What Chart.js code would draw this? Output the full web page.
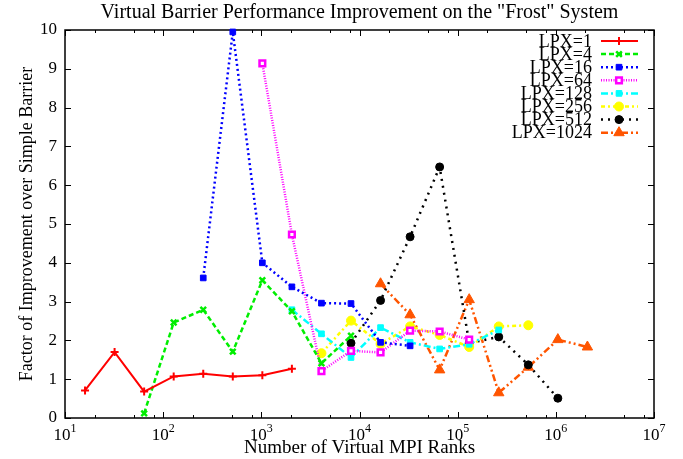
<!DOCTYPE html>
<html>
<head>
<meta charset="utf-8">
<script src="https://cdn.jsdelivr.net/npm/chart.js@4"></script>
<style>
html, body { margin: 0; padding: 0; background: #fff; }
</style>
</head>
<body>
<canvas id="chart" width="683" height="459"></canvas>
<script>
// x positions (number of virtual MPI ranks)
const ranks = [16, 32, 64, 128, 256, 512, 1024, 2048, 4096, 8192, 16384, 32768, 65536, 131072, 262144, 524288, 1048576, 2097152];

// improvement factor per LPX, aligned to ranks (null = no measurement)
const lpx1    = [0.71, 1.70, 0.68, 1.07, 1.14, 1.07, 1.10, 1.27, null, null, null, null, null, null, null, null, null, null];
const lpx4    = [null, null, 0.12, 2.46, 2.79, 1.71, 3.55, 2.75, 1.41, 2.12, null, null, null, null, null, null, null, null];
const lpx16   = [null, null, null, null, 3.61, 9.95, 4.00, 3.38, 2.96, 2.95, 1.95, 1.86, null, null, null, null, null, null];
const lpx64   = [null, null, null, null, null, null, 9.14, 4.73, 1.21, 1.73, 1.69, 2.25, 2.23, 2.02, null, null, null, null];
const lpx128  = [null, null, null, null, null, null, null, 2.79, 2.17, 1.56, 2.33, 1.95, 1.78, 1.90, 2.27, null, null, null];
const lpx256  = [null, null, null, null, null, null, null, null, 1.67, 2.51, 1.91, 2.36, 2.14, 1.83, 2.36, 2.39, null, null];
const lpx512  = [null, null, null, null, null, null, null, null, null, 1.93, 3.03, 4.67, 6.47, 1.93, 2.09, 1.37, 0.51, null];
const lpx1024 = [null, null, null, null, null, null, null, null, null, null, 3.46, 2.66, 1.24, 3.05, 0.65, 1.31, 2.02, 1.83];

const seriesNames = ['LPX=1', 'LPX=4', 'LPX=16', 'LPX=64', 'LPX=128', 'LPX=256', 'LPX=512', 'LPX=1024'];
const seriesValues = [lpx1, lpx4, lpx16, lpx64, lpx128, lpx256, lpx512, lpx1024];
const xExponents = [1, 2, 3, 4, 5, 6, 7];

const serif = '"Liberation Serif", "Times New Roman", serif';

// gnuplot-ish styles
const styles = [
  { color: '#ff0000', dash: [],              width: 2,   point: 'cross',    radius: 4, fill: '#ff0000', pw: 2 },
  { color: '#00ee00', dash: [5, 3],          width: 2.5, point: 'crossRot', radius: 4, fill: '#00ee00', pw: 2.5 },
  { color: '#0000ff', dash: [2, 3],          width: 2.5, point: 'rect',     radius: 4, fill: '#0000ff', pw: 1 },
  { color: '#ff00ff', dash: [1, 1.5],        width: 2.5, point: 'rect',     radius: 4, fill: '#ffffff', pw: 2.5 },
  { color: '#00ffff', dash: [7, 3, 2, 3],    width: 2.5, point: 'rect',     radius: 4, fill: '#00ffff', pw: 1 },
  { color: '#ffff00', dash: [4, 3, 2, 3],    width: 2.5, point: 'circle',   radius: 4.5, fill: '#ffff00', pw: 1 },
  { color: '#000000', dash: [2, 5],          width: 2.5, point: 'circle',   radius: 4, fill: '#000000', pw: 1 },
  { color: '#ff5500', dash: [7, 3, 2, 3, 2, 3], width: 2.5, point: 'triangle', radius: 6, fill: '#ff5500', pw: 1 }
];

const datasets = seriesNames.map((name, i) => {
  const s = styles[i];
  return {
    label: name,
    data: ranks.map((r, j) => ({ x: r, y: seriesValues[i][j] })).filter(p => p.y !== null),
    borderColor: s.color,
    borderWidth: s.width,
    borderDash: s.dash,
    pointStyle: s.point,
    pointRadius: s.radius,
    pointBackgroundColor: s.fill,
    pointBorderColor: s.color,
    pointBorderWidth: s.pw,
    tension: 0,
    fill: false,
    clip: false
  };
});

// frame, ticks, x labels, title and legend
const decorations = {
  id: 'decorations',
  beforeDatasetsDraw(chart) {
    const ctx = chart.ctx;
    const a = chart.chartArea;
    const xs = chart.scales.x, ys = chart.scales.y;
    ctx.save();
    ctx.strokeStyle = '#000';
    ctx.lineWidth = 1;
    ctx.beginPath();
    // x ticks (major + minor at 2, 5, 8)
    xExponents.forEach(e => {
      const px = Math.round(xs.getPixelForValue(Math.pow(10, e))) + 0.5;
      ctx.moveTo(px, a.bottom); ctx.lineTo(px, a.bottom - 6);
      ctx.moveTo(px, a.top); ctx.lineTo(px, a.top + 6);
      if (e < 7) {
        [2, 5, 8].forEach(m => {
          const mx = Math.round(xs.getPixelForValue(m * Math.pow(10, e))) + 0.5;
          ctx.moveTo(mx, a.bottom); ctx.lineTo(mx, a.bottom - 3);
          ctx.moveTo(mx, a.top); ctx.lineTo(mx, a.top + 3);
        });
      }
    });
    // y ticks
    for (let v = 0; v <= 10; v++) {
      const py = Math.round(ys.getPixelForValue(v)) + 0.5;
      ctx.moveTo(a.left, py); ctx.lineTo(a.left + 6, py);
      ctx.moveTo(a.right, py); ctx.lineTo(a.right - 6, py);
    }
    ctx.stroke();
    ctx.lineWidth = 1.5;
    ctx.strokeRect(a.left, a.top, a.right - a.left, a.bottom - a.top);

    // x tick labels 10^n
    ctx.fillStyle = '#000';
    ctx.textBaseline = 'alphabetic';
    ctx.textAlign = 'left';
    xExponents.forEach(e => {
      const px = xs.getPixelForValue(Math.pow(10, e));
      ctx.font = '17px ' + serif;
      const wb = ctx.measureText('10').width;
      ctx.font = '12px ' + serif;
      const we = ctx.measureText(String(e)).width;
      const x0 = px - (wb + we) / 2;
      ctx.font = '17px ' + serif;
      ctx.fillText('10', x0, 440);
      ctx.font = '12px ' + serif;
      ctx.fillText(String(e), x0 + wb, 432);
    });

    // title
    ctx.font = '20px ' + serif;
    ctx.textAlign = 'center';
    ctx.fillText('Virtual Barrier Performance Improvement on the "Frost" System', (a.left + a.right) / 2, 18);
    ctx.restore();
  },
  afterDraw(chart) {
    const ctx = chart.ctx;
    ctx.save();
    chart.data.datasets.forEach((ds, i) => {
      const y = 41 + i * 13.1;
      ctx.font = '18px ' + serif;
      ctx.fillStyle = '#000';
      ctx.textAlign = 'right';
      ctx.textBaseline = 'middle';
      ctx.fillText(ds.label, 592, y + 1);
      ctx.strokeStyle = ds.borderColor;
      ctx.lineWidth = ds.borderWidth;
      ctx.setLineDash(ds.borderDash);
      ctx.beginPath();
      ctx.moveTo(601, y); ctx.lineTo(638, y);
      ctx.stroke();
      ctx.setLineDash([]);
      ctx.fillStyle = ds.pointBackgroundColor;
      ctx.strokeStyle = ds.pointBorderColor;
      ctx.lineWidth = ds.pointBorderWidth;
      Chart.helpers.drawPoint(ctx, { pointStyle: ds.pointStyle, radius: ds.pointRadius, rotation: 0, borderWidth: ds.pointBorderWidth }, 619, y);
    });
    ctx.restore();
  }
};

new Chart(document.getElementById('chart'), {
  type: 'line',
  data: { datasets: datasets },
  options: {
    responsive: false,
    animation: false,
    devicePixelRatio: 1,
    layout: { padding: { top: 30, right: 29, left: 0, bottom: 0 } },
    plugins: { legend: { display: false }, title: { display: false }, tooltip: { enabled: false } },
    scales: {
      x: {
        type: 'logarithmic',
        min: 10,
        max: 1e7,
        grid: { display: false, drawTicks: false },
        border: { display: false },
        ticks: { display: false },
        title: { display: true, text: 'Number of Virtual MPI Ranks', color: '#000', font: { family: serif, size: 19 }, padding: { top: 0, bottom: 0 } },
        afterFit: s => { s.height = 41; }
      },
      y: {
        min: 0,
        max: 10,
        grid: { display: false, drawTicks: false },
        border: { display: false },
        ticks: { stepSize: 1, padding: 8, color: '#000', font: { family: serif, size: 17 } },
        title: { display: true, text: 'Factor of Improvement over Simple Barrier', color: '#000', font: { family: serif, size: 18 }, padding: { top: 16, bottom: 0 } },
        afterFit: s => { s.width = 65; }
      }
    }
  },
  plugins: [decorations]
});
</script>
</body>
</html>
